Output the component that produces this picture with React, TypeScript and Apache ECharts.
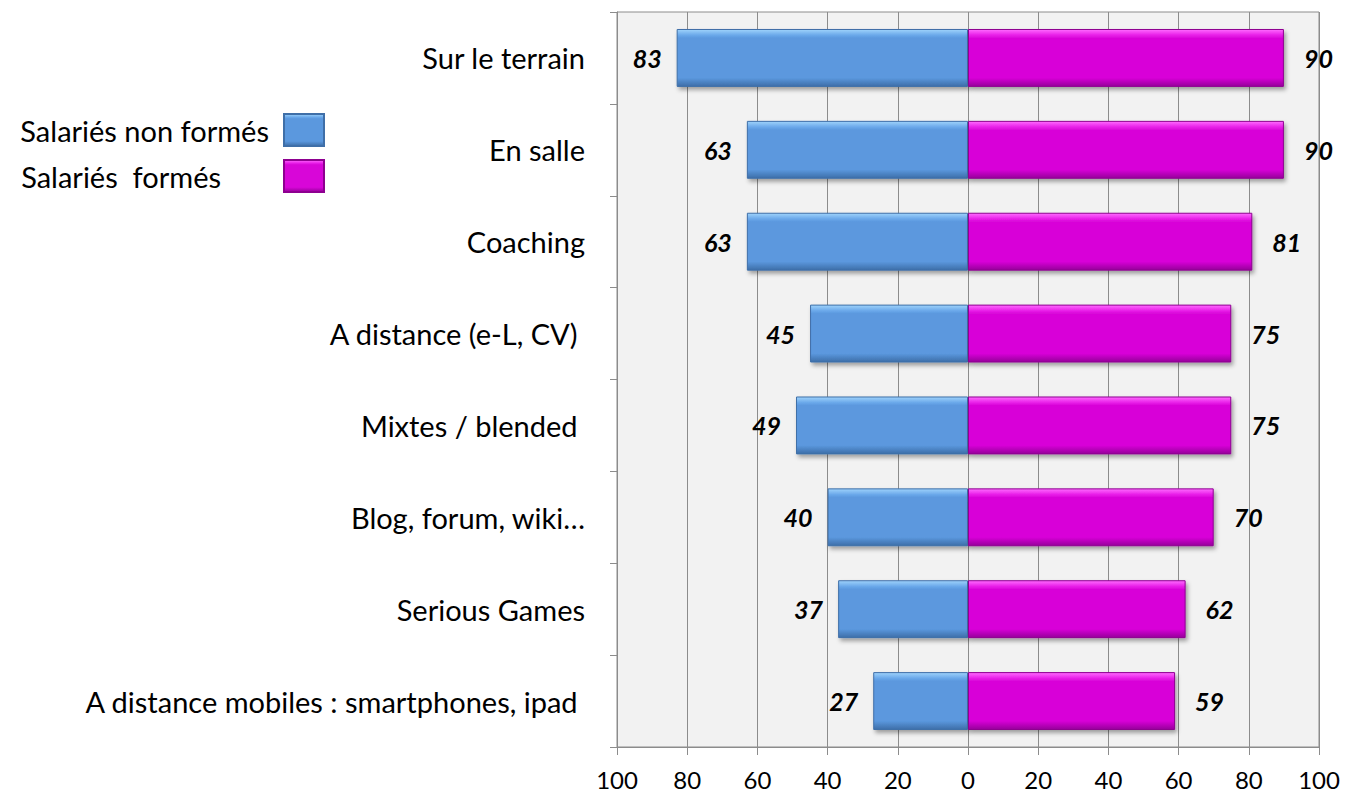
import React, { useEffect, useRef } from "react";
import * as echarts from "echarts";

const categories = [
  "Sur le terrain",
  "En salle",
  "Coaching",
  "A distance (e-L, CV) ",
  "Mixtes / blended ",
  "Blog, forum, wiki…",
  "Serious Games",
  "A distance mobiles : smartphones, ipad ",
];
const nonFormes = [83, 63, 63, 45, 49, 40, 37, 27];
const formes = [90, 90, 81, 75, 75, 70, 62, 59];
const seriesNames = ["Salariés non formés", "Salariés  formés"];
const xTicks = { min: -100, max: 100, interval: 20 };

const FONT = "Lato, 'Open Sans', sans-serif";

const blueFill = new echarts.graphic.LinearGradient(0, 0, 0, 1, [
  { offset: 0, color: "#9fd3fb" },
  { offset: 0.1, color: "#6aa8ea" },
  { offset: 0.15, color: "#5b98de" },
  { offset: 0.85, color: "#5b98de" },
  { offset: 1, color: "#3d6ea8" },
]);
const pinkFill = new echarts.graphic.LinearGradient(0, 0, 0, 1, [
  { offset: 0, color: "#ff6bff" },
  { offset: 0.1, color: "#e81ee8" },
  { offset: 0.15, color: "#d806d8" },
  { offset: 0.85, color: "#d806d8" },
  { offset: 1, color: "#96009a" },
]);

export default function App() {
  const ref = useRef<HTMLDivElement>(null);
  useEffect(() => {
    if (!ref.current) return;
    const chart = echarts.init(ref.current, undefined, { renderer: "svg" });
    const labelStyle = {
      show: true,
      fontFamily: FONT,
      fontSize: 25,
      fontWeight: "bold" as const,
      fontStyle: "italic" as const,
      color: "#000",
      distance: 15,
      formatter: (p: any) => String(Math.abs(p.value)),
    };
    const legendBase = {
      right: 1345 - 325,
      align: "right",
      icon: "rect",
      itemWidth: 40,
      itemHeight: 32,
      padding: 0,
      selectedMode: false,
    };
    chart.setOption({
      animation: false,
      backgroundColor: "#fff",
      textStyle: { fontFamily: FONT },
      legend: [
        {
          ...legendBase,
          data: [seriesNames[0]],
          top: 113,
          textStyle: { fontSize: 29, color: "#000", fontFamily: FONT, padding: [0, 10, 0, 0] },
        },
        {
          ...legendBase,
          data: [seriesNames[1]],
          top: 159,
          textStyle: { fontSize: 29, color: "#000", fontFamily: FONT, padding: [0, 58, 0, 0] },
        },
      ],
      grid: {
        left: 617,
        right: 26,
        top: 12,
        bottom: 56,
        show: true,
        backgroundColor: "#f2f2f2",
        borderColor: "#8c8c8c",
        borderWidth: 1,
      },
      xAxis: {
        type: "value",
        min: xTicks.min,
        max: xTicks.max,
        interval: xTicks.interval,
        axisLine: { show: true, lineStyle: { color: "#8c8c8c" } },
        axisTick: { show: true, length: 8, lineStyle: { color: "#8c8c8c" } },
        splitLine: { show: true, lineStyle: { color: "#8c8c8c", width: 1 } },
        axisLabel: {
          fontSize: 24,
          color: "#000",
          fontFamily: FONT,
          margin: 20,
          formatter: (v: number) => String(Math.abs(v)),
        },
      },
      yAxis: [
        {
          type: "category",
          data: categories,
          inverse: true,
          position: "left",
          axisLine: { show: false },
          axisTick: { show: false },
          axisLabel: { fontSize: 29, color: "#000", fontFamily: FONT, margin: 32 },
        },
        {
          type: "category",
          data: categories,
          inverse: true,
          position: "left",
          axisLine: { show: true, onZero: true, lineStyle: { color: "#8c8c8c" } },
          axisTick: { show: true, length: 7, lineStyle: { color: "#8c8c8c" } },
          axisLabel: { show: false },
        },
      ],
      series: [
        {
          name: seriesNames[0],
          type: "bar",
          stack: "total",
          barWidth: "63%",
          data: nonFormes.map((v) => -v),
          itemStyle: {
            color: blueFill,
            borderColor: "#3f6fa8",
            borderWidth: 1,
            shadowBlur: 4,
            shadowOffsetX: 2,
            shadowOffsetY: 3,
            shadowColor: "rgba(0,0,0,0.35)",
          },
          label: { ...labelStyle, position: "left" },
        },
        {
          name: seriesNames[1],
          type: "bar",
          stack: "total",
          barWidth: "63%",
          data: formes,
          itemStyle: {
            color: pinkFill,
            borderColor: "#8e0090",
            borderWidth: 1,
            shadowBlur: 4,
            shadowOffsetX: 2,
            shadowOffsetY: 3,
            shadowColor: "rgba(0,0,0,0.35)",
          },
          label: { ...labelStyle, position: "right", distance: 20 },
        },
      ],
    });
    return () => chart.dispose();
  }, []);
  return <div ref={ref} style={{ width: 1345, height: 803, position: "absolute", left: 0, top: 0 }} />;
}
